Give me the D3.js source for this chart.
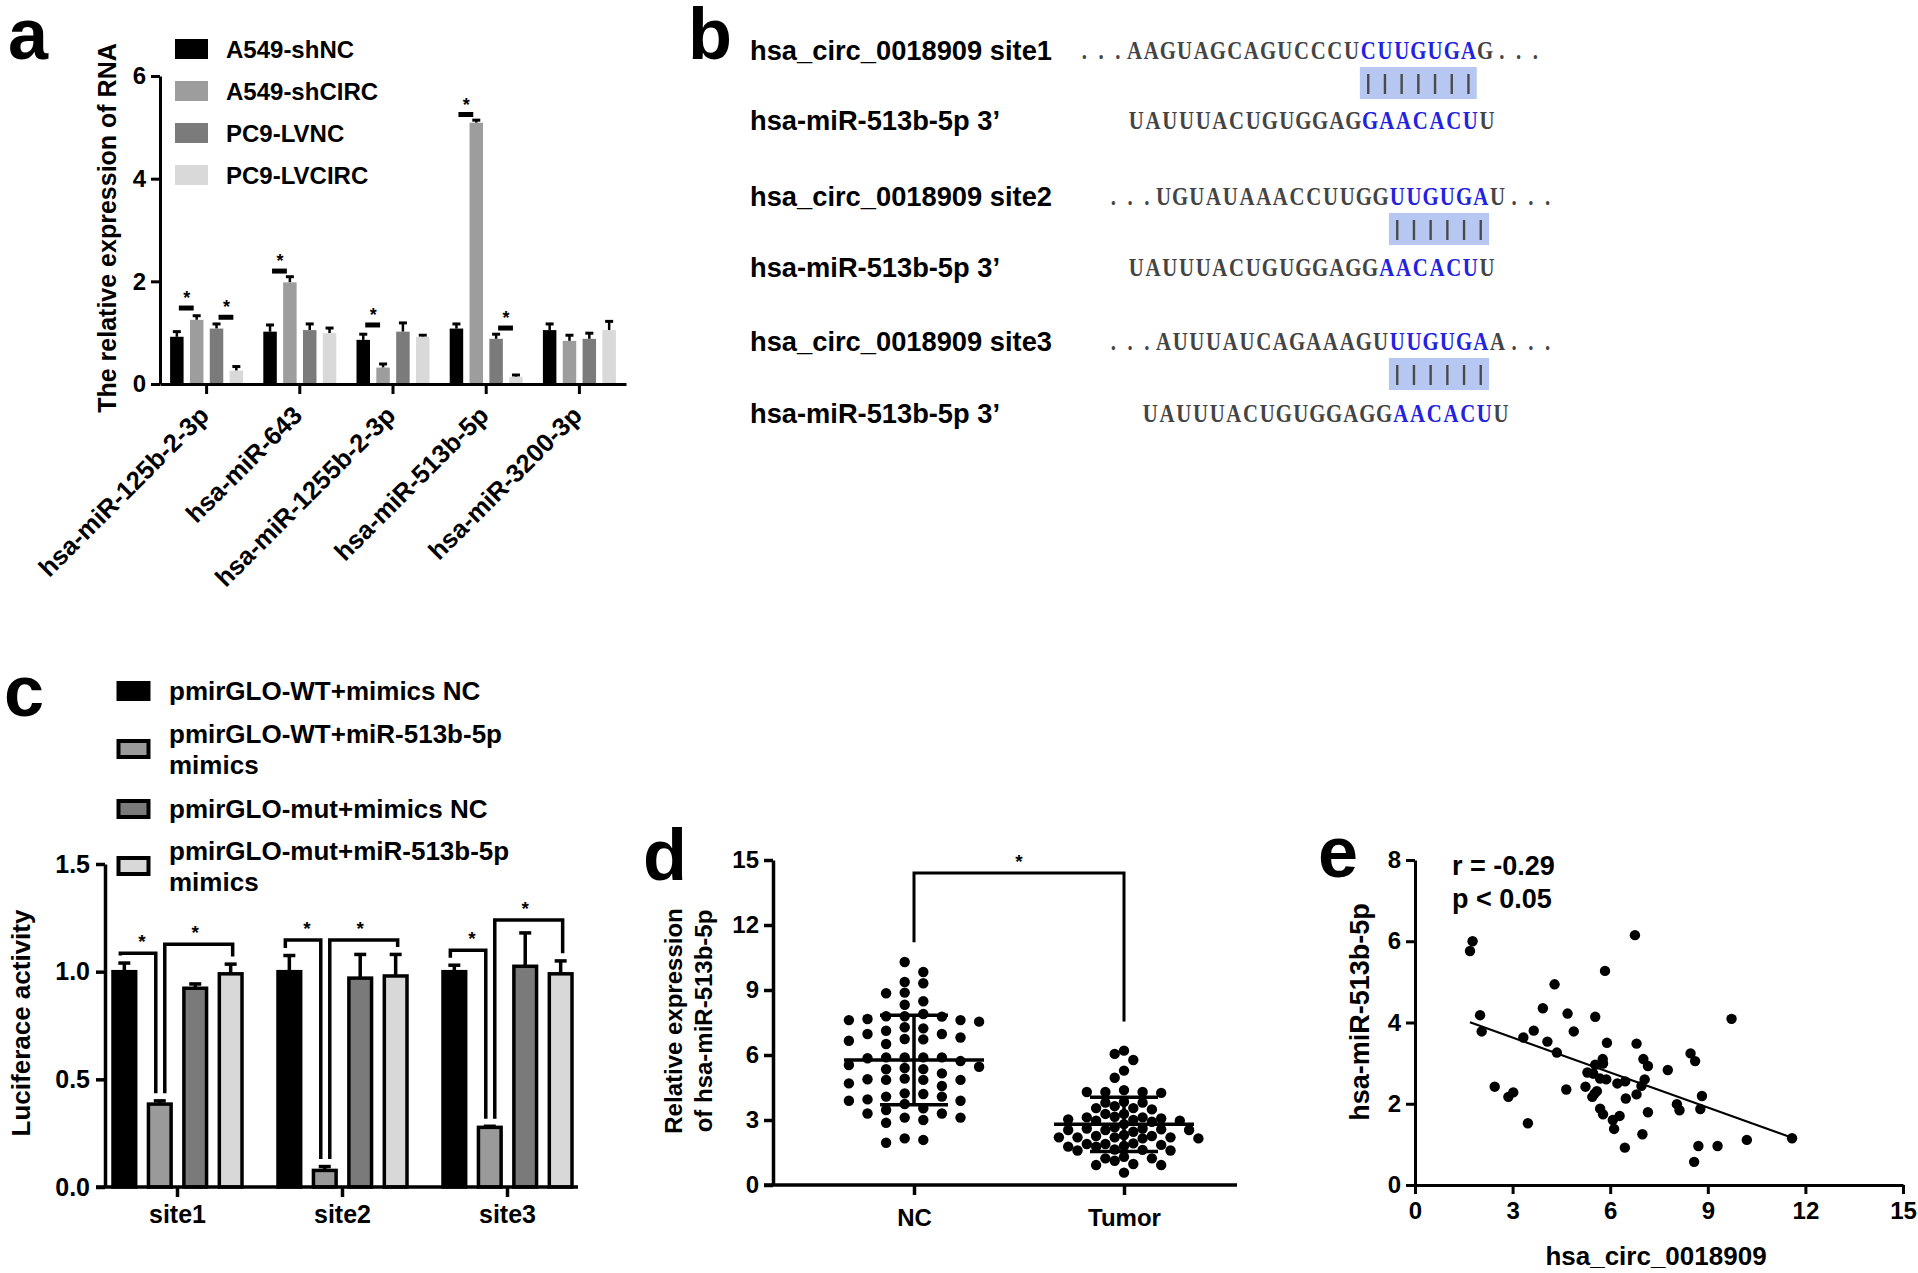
<!DOCTYPE html>
<html>
<head>
<meta charset="utf-8">
<script src="https://cdn.jsdelivr.net/npm/d3@7"></script>
<style>
body { margin: 0; background: #fff; }
svg text { font-family: 'Liberation Sans', Arial, sans-serif; font-weight: bold; fill: #000; }
</style>
</head>
<body>
<svg id="figure" width="1918" height="1273"></svg>
<script>

// ---- panel a : RNA expression
var aMirNames = ['hsa-miR-125b-2-3p', 'hsa-miR-643', 'hsa-miR-1255b-2-3p', 'hsa-miR-513b-5p', 'hsa-miR-3200-3p'];
var aCellGroups = ['A549-shNC', 'A549-shCIRC', 'PC9-LVNC', 'PC9-LVCIRC'];
var aRnaMeans = [
	[0.92, 1.25, 1.08, 0.26],
	[1.02, 1.98, 1.05, 0.99],
	[0.86, 0.32, 1.02, 0.92],
	[1.08, 5.09, 0.88, 0.14],
	[1.05, 0.84, 0.88, 1.05]];
var aRnaErrors = [
	[0.10, 0.08, 0.09, 0.08],
	[0.13, 0.11, 0.12, 0.10],
	[0.11, 0.07, 0.17, 0.03],
	[0.09, 0.05, 0.09, 0.035],
	[0.12, 0.11, 0.11, 0.17]];
// [mir index, from group, to group, level]
var aRnaSig = [[0, 0, 1, 1.48], [0, 2, 3, 1.30], [1, 0, 1, 2.20], [2, 0, 1, 1.15], [3, 0, 1, 5.25], [3, 2, 3, 1.09]];
var aRnaTicks = [0, 2, 4, 6];

// ---- panel b : binding sites
var aSiteLabels = ['hsa_circ_0018909 site1', "hsa-miR-513b-5p 3\u2019", 'hsa_circ_0018909 site2', "hsa-miR-513b-5p 3\u2019", 'hsa_circ_0018909 site3', "hsa-miR-513b-5p 3\u2019"];
var aSiteSeqs = ['...AAGUAGCAGUCCCUCUUGUGAG...', 'UAUUUACUGUGGAGGAACACUU', '...UGUAUAAACCUUGGUUGUGAU...', 'UAUUUACUGUGGAGGAACACUU', '...AUUUAUCAGAAAGUUUGUGAA...', 'UAUUUACUGUGGAGGAACACUU'];
// [first blue char, last blue char + 1]
var aSiteBlue = [[17, 24], [14, 21], [17, 23], [15, 21], [17, 23], [15, 21]];

// ---- panel c : luciferase
var aSites = ['site1', 'site2', 'site3'];
var aLucGroups = ['pmirGLO-WT+mimics NC', 'pmirGLO-WT+miR-513b-5p mimics', 'pmirGLO-mut+mimics NC', 'pmirGLO-mut+miR-513b-5p mimics'];
var aLucLegendLines = [['pmirGLO-WT+mimics NC'], ['pmirGLO-WT+miR-513b-5p', 'mimics'], ['pmirGLO-mut+mimics NC'], ['pmirGLO-mut+miR-513b-5p', 'mimics']];
var aLucMeans = [
	[1.00, 0.385, 0.923, 0.99],
	[1.00, 0.077, 0.97, 0.98],
	[1.00, 0.277, 1.025, 0.99]];
var aLucErrors = [
	[0.04, 0.015, 0.02, 0.045],
	[0.075, 0.018, 0.11, 0.10],
	[0.03, 0.005, 0.155, 0.06]];
var aLucSig = [[0, 0, 1, 1.085], [0, 1, 3, 1.127], [1, 0, 1, 1.147], [1, 1, 3, 1.147], [2, 0, 1, 1.10], [2, 1, 3, 1.24]];
var aLucTicks = [0, 0.5, 1.0, 1.5];

// ---- panel d : NC vs tumor
var aTissues = ['NC', 'Tumor'];
var aNcValues = [7.89, 5.72, 4.85, 4.2, 7.61, 7.12, 6.66, 5.89, 3.89, 3.3, 8.88, 7.61, 6.81, 5.85, 5.35, 4.88, 3.54, 2.87, 1.95,
	10.29, 9.37, 8.85, 8.32, 7.66, 6.97, 5.46, 4.85, 4.23, 3.74, 3.11, 9.83, 9.31, 8.48, 7.79, 7.28, 6.72, 5.89, 5.4, 4.91,
	3.89, 3.11, 2.08, 7.54, 6.97, 6.51, 5.89, 5.15, 4.69, 3.95, 3.46, 3.0, 2.15, 7.77, 7.23, 6.74, 5.89, 5.34, 4.85, 4.08,
	3.3, 7.79, 5.54, 4.57, 4.08];
var aTumorValues = [6.05, 6.2, 5.77, 5.28, 4.95, 4.29, 4.38, 4.29, 4.29, 4.25, 3.84, 3.8, 3.8, 3.49, 3.55, 3.55, 3.64, 3.15,
	3.12, 3.28, 3.07, 3.28, 3.12, 2.97, 3.0, 3.03, 2.92, 2.97, 2.81, 2.54, 2.57, 2.66, 2.54, 2.61, 2.54, 2.61, 2.46, 2.2, 2.2,
	2.2, 2.31, 2.15, 2.26, 2.26, 2.2, 2.15, 1.85, 1.89, 1.8, 1.77, 1.89, 1.77, 1.92, 1.62, 1.59, 1.59, 1.64, 1.23, 1.3, 1.23,
	1.12, 0.92, 0.97, 0.92, 0.57];
var aTissueMeans = [5.77, 2.80];
var aTissueSd = [2.07, 1.25];
// [level, left leg end, right leg end]
var aTissueSig = [14.4, 11.2, 7.55];
var aTissueTicks = [0, 3, 6, 9, 12, 15];

// ---- panel e : correlation
var aCircX = [1.69, 1.77, 2.0, 2.05, 2.45, 2.87, 3.02, 3.33, 3.47, 3.65, 3.93, 4.07, 4.29, 4.36, 4.65, 4.69, 4.88, 5.24, 5.3,
	5.45, 5.52, 5.54, 5.59, 5.54, 5.48, 5.69, 5.69, 5.78, 5.77, 5.84, 5.9, 5.78, 5.88, 6.08, 6.12, 6.22, 6.29, 6.46, 6.48,
	6.45, 6.76, 6.81, 6.81, 6.96, 6.99, 7.02, 7.06, 7.16, 7.16, 7.77, 8.05, 8.13, 8.47, 8.61, 8.58, 8.71, 8.77, 8.82, 9.3,
	9.73, 10.2, 11.59];
var aMirY = [5.76, 6.0, 4.18, 3.78, 2.42, 2.17, 2.28, 3.63, 1.52, 3.8, 4.35, 3.53, 4.94, 3.26, 2.35, 4.22, 3.78, 2.42, 2.77,
	2.17, 2.25, 4.14, 2.31, 2.96, 2.74, 2.62, 1.88, 1.74, 3.1, 5.27, 3.5, 2.99, 2.6, 1.6, 1.38, 2.5, 1.7, 2.55, 2.13, 0.92,
	6.15, 3.48, 2.23, 2.44, 1.25, 3.1, 2.6, 2.93, 1.79, 2.83, 1.99, 1.84, 3.24, 3.05, 0.57, 0.96, 1.87, 2.19, 0.96, 4.09,
	1.11, 1.15];
var aFit = [-0.287, 4.49];
var aCorrText = ['r = -0.29', 'p < 0.05'];
var aCircTicks = [0, 3, 6, 9, 12, 15];
var aMirTicks = [0, 2, 4, 6, 8];

// colours
var aRnaColors = ['#000000', '#9d9d9d', '#7b7b7b', '#d9d9d9'];
var aLucColors = ['#000000', '#9a9a9a', '#7a7a7a', '#d8d8d8'];


var sSvg = d3.select('#figure');
sSvg.append('rect').attr('width', 1918).attr('height', 1273).attr('fill', '#fff');

function StyleAxis(sAxis, nWidth, nFont)
{
	sAxis.selectAll('path, line').attr('stroke', '#000').attr('stroke-width', nWidth);
	sAxis.selectAll('text').attr('font-size', nFont).attr('font-family', null).attr('fill', '#000');
}

function PanelLetter(strLetter, nX, nY)
{
	sSvg.append('text')
		.attr('x', nX)
		.attr('y', nY)
		.attr('font-size', 72)
		.text(strLetter);
}

// ================= panel a
function DrawPanelA()
{
	var nLeft = 160, nRight = 626, nTop = 76, nBottom = 384;
	var sChart = sSvg.append('g');

	var scaleX = d3.scaleBand().domain(aMirNames).range([nLeft, nRight]);
	var scaleInner = d3.scaleBand().domain(aCellGroups).range([0, 73]).paddingInner(0.32);
	var scaleY = d3.scaleLinear().domain([0, 6]).range([nBottom, nTop]);

	function BarX(nMir, nGroup)
	{
		return scaleX(aMirNames[nMir]) + scaleX.bandwidth() / 2 - 36.5 + scaleInner(aCellGroups[nGroup]);
	}

	var aRows = [];
	aRnaMeans.forEach(function(aRow, i)
	{
		aRow.forEach(function(fMean, j)
		{
			aRows.push({mir: i, group: j, mean: fMean, err: aRnaErrors[i][j]});
		});
	});

	// error bars first, bars on top
	var sErr = sChart.selectAll('.a-err').data(aRows).enter().append('g');
	sErr.append('line')
		.attr('x1', function(row) { return BarX(row.mir, row.group) + scaleInner.bandwidth() / 2; })
		.attr('x2', function(row) { return BarX(row.mir, row.group) + scaleInner.bandwidth() / 2; })
		.attr('y1', function(row) { return scaleY(row.mean); })
		.attr('y2', function(row) { return scaleY(row.mean + row.err); })
		.attr('stroke', '#000').attr('stroke-width', 2.5);
	sErr.append('line')
		.attr('x1', function(row) { return BarX(row.mir, row.group) + scaleInner.bandwidth() / 2 - 4; })
		.attr('x2', function(row) { return BarX(row.mir, row.group) + scaleInner.bandwidth() / 2 + 4; })
		.attr('y1', function(row) { return scaleY(row.mean + row.err); })
		.attr('y2', function(row) { return scaleY(row.mean + row.err); })
		.attr('stroke', '#000').attr('stroke-width', 3);

	sChart.selectAll('.a-bar').data(aRows).enter().append('rect')
		.attr('x', function(row) { return BarX(row.mir, row.group); })
		.attr('y', function(row) { return scaleY(row.mean); })
		.attr('width', scaleInner.bandwidth())
		.attr('height', function(row) { return nBottom - scaleY(row.mean); })
		.attr('fill', function(row) { return aRnaColors[row.group]; });

	// significance marks
	var sSig = sChart.selectAll('.a-sig').data(aRnaSig).enter().append('g');
	sSig.append('line')
		.attr('x1', function(s) { return BarX(s[0], s[1]) + scaleInner.bandwidth() / 2 + 2; })
		.attr('x2', function(s) { return BarX(s[0], s[2]) + scaleInner.bandwidth() / 2 - 3; })
		.attr('y1', function(s) { return scaleY(s[3]); })
		.attr('y2', function(s) { return scaleY(s[3]); })
		.attr('stroke', '#000').attr('stroke-width', 5);
	sSig.append('text')
		.attr('x', function(s) { return (BarX(s[0], s[1]) + BarX(s[0], s[2])) / 2 + scaleInner.bandwidth() / 2; })
		.attr('y', function(s) { return scaleY(s[3]) - 4; })
		.attr('text-anchor', 'middle')
		.attr('font-size', 18)
		.attr('font-weight', 'normal')
		.text('*');

	var sAxisY = sChart.append('g')
		.attr('transform', 'translate(' + nLeft + ',0)')
		.call(d3.axisLeft(scaleY).tickValues(aRnaTicks).tickSize(9).tickPadding(5).tickSizeOuter(0).tickFormat(d3.format('d')));
	StyleAxis(sAxisY, 3, 24);

	var sAxisX = sChart.append('g')
		.attr('transform', 'translate(0,' + nBottom + ')')
		.call(d3.axisBottom(scaleX).tickSize(10).tickSizeOuter(0));
	StyleAxis(sAxisX, 3, 25.5);
	sAxisX.selectAll('text')
		.attr('text-anchor', 'end')
		.attr('dy', null)
		.attr('y', 0)
		.attr('transform', 'translate(4,33) rotate(-45)');

	sChart.append('text')
		.attr('transform', 'translate(116,228) rotate(-90)')
		.attr('text-anchor', 'middle')
		.attr('font-size', 25)
		.text('The relative expression of RNA');

	// legend
	var sLegend = sChart.selectAll('.a-leg').data(aCellGroups).enter().append('g')
		.attr('transform', function(d, i) { return 'translate(175,' + (49 + i * 42) + ')'; });
	sLegend.append('rect')
		.attr('x', 0).attr('y', -10).attr('width', 33).attr('height', 20)
		.attr('fill', function(d, i) { return aRnaColors[i]; });
	sLegend.append('text')
		.attr('x', 51).attr('y', 9)
		.attr('font-size', 24)
		.text(function(d) { return d; });
}

// ================= panel b
function DrawPanelB()
{
	var sPanel = sSvg.append('g');
	var nCharW = 16.7;
	var aRowY = [50, 120, 196, 267, 341, 413];
	var aSeqX = [1076, 1128, 1105, 1128, 1105, 1142];

	aSiteLabels.forEach(function(strLabel, i)
	{
		sPanel.append('text')
			.attr('x', 750)
			.attr('y', aRowY[i] + 10)
			.attr('font-size', 28)
			.attr('textLength', i % 2 == 0 ? 302 : 250)
			.attr('lengthAdjust', 'spacingAndGlyphs')
			.text(strLabel);

		var aChars = aSiteSeqs[i].split('').map(function(c, k)
			{
				return {ch: c, idx: k, blue: k >= aSiteBlue[i][0] && k < aSiteBlue[i][1]};
			});

		if (i % 2 == 0)
		{
			var nBoxX = aSeqX[i] + aSiteBlue[i][0] * nCharW;
			var nCount = aSiteBlue[i][1] - aSiteBlue[i][0];
			sPanel.append('rect')
				.attr('x', nBoxX)
				.attr('y', aRowY[i] + 17)
				.attr('width', nCount * nCharW)
				.attr('height', 32)
				.attr('fill', '#b6c8f2');
			sPanel.selectAll(null).data(d3.range(nCount)).enter().append('line')
				.attr('x1', function(k) { return nBoxX + (k + 0.5) * nCharW; })
				.attr('x2', function(k) { return nBoxX + (k + 0.5) * nCharW; })
				.attr('y1', aRowY[i] + 24)
				.attr('y2', aRowY[i] + 44)
				.attr('stroke', '#4a4a4a').attr('stroke-width', 2.4);
		}

		sPanel.selectAll(null).data(aChars).enter().append('text')
			.attr('transform', function(c) { return 'translate(' + (aSeqX[i] + (c.idx + 0.5) * nCharW) + ',' + (aRowY[i] + 9) + ') scale(0.8,1)'; })
			.attr('text-anchor', 'middle')
			.attr('font-weight', 'bold')
			.attr('font-size', 26)
			.style('font-family', "'Liberation Serif', 'Times New Roman', serif")
			.style('fill', function(c) { return c.blue ? '#2222e0' : '#444444'; })
			.text(function(c) { return c.ch; });
	});
}

// ================= panel c
function DrawPanelC()
{
	var nLeft = 105, nRight = 578, nTop = 864, nBottom = 1187;
	var sChart = sSvg.append('g');

	var scaleX = d3.scaleBand().domain(aSites).range([95, 590]);
	var scaleInner = d3.scaleBand().domain(aLucGroups).range([0, 129]).paddingInner(0.36);
	var scaleY = d3.scaleLinear().domain([0, 1.5]).range([nBottom, nTop]);

	function BarX(nSite, nGroup)
	{
		return scaleX(aSites[nSite]) + scaleX.bandwidth() / 2 - 64.5 + scaleInner(aLucGroups[nGroup]);
	}
	function BarC(nSite, nGroup)
	{
		return BarX(nSite, nGroup) + scaleInner.bandwidth() / 2;
	}

	var aRows = [];
	aLucMeans.forEach(function(aRow, i)
	{
		aRow.forEach(function(fMean, j)
		{
			aRows.push({site: i, group: j, mean: fMean, err: aLucErrors[i][j]});
		});
	});

	var sErr = sChart.selectAll('.c-err').data(aRows).enter().append('g');
	sErr.append('line')
		.attr('x1', function(row) { return BarC(row.site, row.group); })
		.attr('x2', function(row) { return BarC(row.site, row.group); })
		.attr('y1', function(row) { return scaleY(row.mean); })
		.attr('y2', function(row) { return scaleY(row.mean + row.err); })
		.attr('stroke', '#000').attr('stroke-width', 3.5);
	sErr.append('line')
		.attr('x1', function(row) { return BarC(row.site, row.group) - 6; })
		.attr('x2', function(row) { return BarC(row.site, row.group) + 6; })
		.attr('y1', function(row) { return scaleY(row.mean + row.err); })
		.attr('y2', function(row) { return scaleY(row.mean + row.err); })
		.attr('stroke', '#000').attr('stroke-width', 3.5);

	sChart.selectAll('.c-bar').data(aRows).enter().append('rect')
		.attr('x', function(row) { return BarX(row.site, row.group); })
		.attr('y', function(row) { return scaleY(row.mean); })
		.attr('width', scaleInner.bandwidth())
		.attr('height', function(row) { return nBottom - scaleY(row.mean); })
		.attr('fill', function(row) { return aLucColors[row.group]; })
		.attr('stroke', '#000').attr('stroke-width', 3.5);

	// brackets
	var sSig = sChart.selectAll('.c-sig').data(aLucSig).enter().append('g');
	sSig.append('path')
		.attr('d', function(s)
			{
				var nX1 = BarC(s[0], s[1]) + (s[1] == 1 ? 5 : -4);
				var nX2 = BarC(s[0], s[2]) + (s[2] == 1 ? -4 : 2);
				var fEnd1 = aLucMeans[s[0]][s[1]] + aLucErrors[s[0]][s[1]] + 0.035;
				var fEnd2 = aLucMeans[s[0]][s[2]] + aLucErrors[s[0]][s[2]] + 0.035;
				return 'M' + nX1 + ',' + scaleY(fEnd1) + 'V' + scaleY(s[3]) + 'H' + nX2 + 'V' + scaleY(fEnd2);
			})
		.attr('fill', 'none')
		.attr('stroke', '#000').attr('stroke-width', 3.5);
	sSig.append('text')
		.attr('x', function(s) { return (BarC(s[0], s[1]) + BarC(s[0], s[2])) / 2; })
		.attr('y', function(s) { return scaleY(s[3]) - 5; })
		.attr('text-anchor', 'middle')
		.attr('font-size', 19)
		.attr('font-weight', 'normal')
		.text('*');

	var sAxisY = sChart.append('g')
		.attr('transform', 'translate(' + nLeft + ',0)')
		.call(d3.axisLeft(scaleY).tickValues(aLucTicks).tickSize(9).tickPadding(6).tickSizeOuter(0).tickFormat(d3.format('.1f')));
	StyleAxis(sAxisY, 3.5, 25);

	var sAxisX = sChart.append('g')
		.attr('transform', 'translate(0,' + nBottom + ')')
		.call(d3.axisBottom(scaleX).tickSize(10).tickPadding(8).tickSizeOuter(0));
	sAxisX.select('.domain').remove();
	sAxisX.append('line')
		.attr('x1', nLeft - 9).attr('x2', nRight)
		.attr('y1', 0).attr('y2', 0);
	StyleAxis(sAxisX, 3.5, 25);

	sChart.append('text')
		.attr('transform', 'translate(30,1023) rotate(-90)')
		.attr('text-anchor', 'middle')
		.attr('font-size', 26)
		.text('Luciferace activity');

	var sLegend = sChart.selectAll('.c-leg').data(aLucLegendLines).enter().append('g')
		.attr('transform', function(d, i) { return 'translate(117,' + [691, 749, 809, 866][i] + ')'; });
	sLegend.append('rect')
		.attr('x', 1.5).attr('y', -8).attr('width', 30).attr('height', 16)
		.attr('fill', function(d, i) { return aLucColors[i]; })
		.attr('stroke', '#000').attr('stroke-width', 4);
	sLegend.each(function(aLines)
	{
		var sText = d3.select(this).append('text')
			.attr('x', 52)
			.attr('y', aLines.length == 1 ? 9 : -6)
			.attr('font-size', 26);
		aLines.forEach(function(strLine, k)
		{
			sText.append('tspan').attr('x', 52).attr('dy', k == 0 ? 0 : 31).text(strLine);
		});
	});
}

// ================= panel d
function SwarmOffsets(aValues, scaleY, aSlots, nMinDist)
{
	var aPlaced = [];
	var aOffsets = new Array(aValues.length);
	var aOrder = d3.range(aValues.length).sort(function(a, b) { return aValues[b] - aValues[a]; });
	aOrder.forEach(function(i)
	{
		var nY = scaleY(aValues[i]);
		var nBest = aSlots[aSlots.length - 1];
		for (var k = 0; k < aSlots.length; k++)
		{
			var bFree = aPlaced.every(function(p)
				{
					var dx = p.x - aSlots[k], dy = p.y - nY;
					return dx * dx + dy * dy >= nMinDist * nMinDist;
				});
			if (bFree)
			{
				nBest = aSlots[k];
				break;
			}
		}
		aPlaced.push({x: nBest, y: nY});
		aOffsets[i] = nBest;
	});
	return aOffsets;
}

function DrawPanelD()
{
	var nLeft = 773, nRight = 1237, nTop = 860, nBottom = 1185;
	var sChart = sSvg.append('g');

	var scaleX = d3.scalePoint().domain(aTissues).range([nLeft + 141, nLeft + 351]);
	var scaleY = d3.scaleLinear().domain([0, 15]).range([nBottom, nTop]);

	var aNcSlots = [], aTumorSlots = [0];
	for (var k = 0; k < 6; k++)
	{
		aNcSlots.push(-(k + 0.5) * 18.6, (k + 0.5) * 18.6);
	}
	for (var k = 1; k < 12; k++)
	{
		aTumorSlots.push(-k * 9.3, k * 9.3);
	}

	var aGroups = [
		{name: 'NC', values: aNcValues, offsets: SwarmOffsets(aNcValues, scaleY, aNcSlots, 10.5)},
		{name: 'Tumor', values: aTumorValues, offsets: SwarmOffsets(aTumorValues, scaleY, aTumorSlots, 9.6)}];

	aGroups.forEach(function(group)
	{
		sChart.selectAll(null).data(group.values).enter().append('circle')
			.attr('cx', function(v, i) { return scaleX(group.name) + group.offsets[i]; })
			.attr('cy', function(v) { return scaleY(v); })
			.attr('r', 5.2)
			.attr('fill', '#000');
	});

	// mean and SD
	aTissues.forEach(function(strName, i)
	{
		var nX = scaleX(strName);
		var fMean = aTissueMeans[i], fSd = aTissueSd[i];
		sChart.append('line')
			.attr('x1', nX - 70).attr('x2', nX + 70)
			.attr('y1', scaleY(fMean)).attr('y2', scaleY(fMean))
			.attr('stroke', '#000').attr('stroke-width', 3.5);
		sChart.append('line')
			.attr('x1', nX).attr('x2', nX)
			.attr('y1', scaleY(fMean - fSd)).attr('y2', scaleY(fMean + fSd))
			.attr('stroke', '#000').attr('stroke-width', 3.5);
		[fMean - fSd, fMean + fSd].forEach(function(fV)
		{
			sChart.append('line')
				.attr('x1', nX - 34).attr('x2', nX + 34)
				.attr('y1', scaleY(fV)).attr('y2', scaleY(fV))
				.attr('stroke', '#000').attr('stroke-width', 3.5);
		});
	});

	sChart.append('path')
		.attr('d', 'M' + scaleX('NC') + ',' + scaleY(aTissueSig[1]) + 'V' + scaleY(aTissueSig[0]) +
			'H' + scaleX('Tumor') + 'V' + scaleY(aTissueSig[2]))
		.attr('fill', 'none')
		.attr('stroke', '#000').attr('stroke-width', 3);
	sChart.append('text')
		.attr('x', (scaleX('NC') + scaleX('Tumor')) / 2)
		.attr('y', scaleY(aTissueSig[0]) - 5)
		.attr('text-anchor', 'middle')
		.attr('font-size', 19)
		.attr('font-weight', 'normal')
		.text('*');

	var sAxisY = sChart.append('g')
		.attr('transform', 'translate(' + nLeft + ',0)')
		.call(d3.axisLeft(scaleY).tickValues(aTissueTicks).tickSize(9).tickPadding(5).tickSizeOuter(0));
	StyleAxis(sAxisY, 3.5, 24);

	var sAxisX = sChart.append('g')
		.attr('transform', 'translate(0,' + nBottom + ')')
		.call(d3.axisBottom(scaleX).tickSize(10).tickPadding(14).tickSizeOuter(0));
	sAxisX.select('.domain').remove();
	sAxisX.append('line')
		.attr('x1', nLeft - 9).attr('x2', nRight)
		.attr('y1', 0).attr('y2', 0);
	StyleAxis(sAxisX, 3.5, 24);

	var sLabel = sChart.append('text')
		.attr('transform', 'translate(690,1021) rotate(-90)')
		.attr('text-anchor', 'middle')
		.attr('font-size', 24);
	sLabel.append('tspan').attr('x', 0).attr('dy', '-0.35em').text('Relative expression');
	sLabel.append('tspan').attr('x', 0).attr('dy', '1.25em').text('of hsa-miR-513b-5p');
}

// ================= panel e
function DrawPanelE()
{
	var nLeft = 1415, nRight = 1903, nTop = 860, nBottom = 1185;
	var sChart = sSvg.append('g');

	var scaleX = d3.scaleLinear().domain([0, 15]).range([nLeft, nRight]);
	var scaleY = d3.scaleLinear().domain([0, 8]).range([nBottom, nTop]);

	var fMinX = d3.min(aCircX), fMaxX = d3.max(aCircX);
	sChart.append('line')
		.attr('x1', scaleX(fMinX)).attr('x2', scaleX(fMaxX))
		.attr('y1', scaleY(aFit[0] * fMinX + aFit[1])).attr('y2', scaleY(aFit[0] * fMaxX + aFit[1]))
		.attr('stroke', '#000').attr('stroke-width', 2.2);

	sChart.selectAll(null).data(aCircX).enter().append('circle')
		.attr('cx', function(x) { return scaleX(x); })
		.attr('cy', function(x, i) { return scaleY(aMirY[i]); })
		.attr('r', 5.2)
		.attr('fill', '#000');

	var sAxisY = sChart.append('g')
		.attr('transform', 'translate(' + nLeft + ',0)')
		.call(d3.axisLeft(scaleY).tickValues(aMirTicks).tickSize(9).tickPadding(5).tickSizeOuter(0));
	StyleAxis(sAxisY, 3, 24);

	var sAxisX = sChart.append('g')
		.attr('transform', 'translate(0,' + nBottom + ')')
		.call(d3.axisBottom(scaleX).tickValues(aCircTicks).tickSize(9).tickPadding(8).tickSizeOuter(0));
	StyleAxis(sAxisX, 3, 24);

	sChart.append('text')
		.attr('x', (nLeft + nRight) / 2 - 3)
		.attr('y', 1265)
		.attr('text-anchor', 'middle')
		.attr('font-size', 26)
		.text('hsa_circ_0018909');

	sChart.append('text')
		.attr('transform', 'translate(1369,1012) rotate(-90)')
		.attr('text-anchor', 'middle')
		.attr('font-size', 27)
		.text('hsa-miR-513b-5p');

	sChart.selectAll(null).data(aCorrText).enter().append('text')
		.attr('x', 1452)
		.attr('y', function(d, i) { return 875 + i * 33; })
		.attr('font-size', 27)
		.text(function(d) { return d; });
}

DrawPanelA();
DrawPanelB();
DrawPanelC();
DrawPanelD();
DrawPanelE();

PanelLetter('a', 8, 59);
PanelLetter('b', 688, 59);
PanelLetter('c', 4, 716);
PanelLetter('d', 643, 880);
PanelLetter('e', 1318, 877);

</script>
</body>
</html>
